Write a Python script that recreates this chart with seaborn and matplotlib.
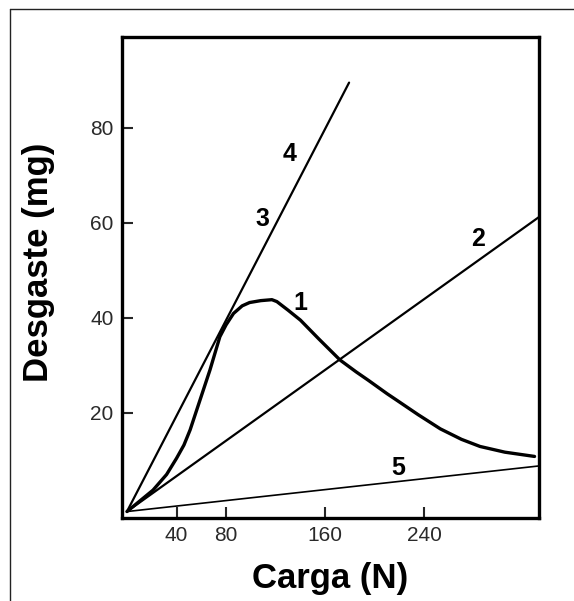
import matplotlib
matplotlib.use("Agg")
import matplotlib.pyplot as plt
import seaborn as sns
from matplotlib.lines import Line2D

# ---- data ----
curve1_x = [0, 21, 32, 40, 46, 51, 59, 67, 75, 80, 86, 93, 99, 108, 117, 121, 130, 140, 155, 172,
            185, 195, 210, 218, 235, 253, 270, 285, 305, 329]
curve1_y = [-0.8, 3.7, 7.0, 10.4, 13.2, 16.4, 22.7, 29.0, 36.0, 38.5, 40.9, 42.5, 43.2, 43.6, 43.8, 43.4,
            41.6, 39.5, 35.5, 31.1, 28.6, 26.8, 24.0, 22.6, 19.6, 16.6, 14.4, 12.9, 11.7, 10.8]
line2_x = [0, 332.6]
line2_y = [-0.8, 61.2]
line34_x = [0, 179.3]
line34_y = [-0.8, 89.5]
line5_x = [0, 332.6]
line5_y = [-0.8, 8.8]

labels = ["1", "2", "3", "4", "5"]
label_x = [139.7, 283.5, 109, 131, 219]
label_y = [43.1, 56.6, 60.8, 74.5, 8.4]

xticks = [40, 80, 160, 240]
yticks = [20, 40, 60, 80]

sns.set_style("white")
plt.rcParams["font.family"] = ["Liberation Sans", "DejaVu Sans"]

fig = plt.figure(figsize=(5.74, 6.01), dpi=100)
ax = fig.add_axes([122 / 574, 1 - 518 / 601, (539 - 122) / 574, (518 - 37) / 601])

sns.lineplot(x=line34_x, y=line34_y, ax=ax, color="black", lw=1.6, sort=False, estimator=None)
sns.lineplot(x=line2_x, y=line2_y, ax=ax, color="black", lw=1.6, sort=False, estimator=None)
sns.lineplot(x=line5_x, y=line5_y, ax=ax, color="black", lw=1.2, sort=False, estimator=None)
sns.lineplot(x=curve1_x, y=curve1_y, ax=ax, color="black", lw=2.4, sort=False, estimator=None)

for t, x, y in zip(labels, label_x, label_y):
    ax.text(x, y, t, fontsize=18, fontweight="bold", ha="center", va="center", color="black")

ax.set_xlim(-4, 332.6)
ax.set_ylim(-2.16, 99.1)
ax.set_xticks(xticks)
ax.set_yticks(yticks)
ax.tick_params(direction="in", length=8, width=1.5, labelsize=15, labelcolor="#2a2a2a", pad=6,
               top=False, right=False, bottom=True, left=True)
for s in ax.spines.values():
    s.set_linewidth(2.4)
    s.set_color("black")

ax.set_xlabel("Carga (N)", fontsize=25, fontweight="bold", labelpad=12, color="black")
ax.set_ylabel("Desgaste (mg)", fontsize=25, fontweight="bold", color="black")
ax.yaxis.set_label_coords(-0.16, 0.532)

# outer frame lines (top and left)
fig.add_artist(Line2D([10 / 574, 1], [1 - 9 / 601, 1 - 9 / 601], transform=fig.transFigure, color="#222", lw=1))
fig.add_artist(Line2D([10 / 574, 10 / 574], [0, 1 - 9 / 601], transform=fig.transFigure, color="#222", lw=1))

fig.savefig("out.png", dpi=100, facecolor="white")
